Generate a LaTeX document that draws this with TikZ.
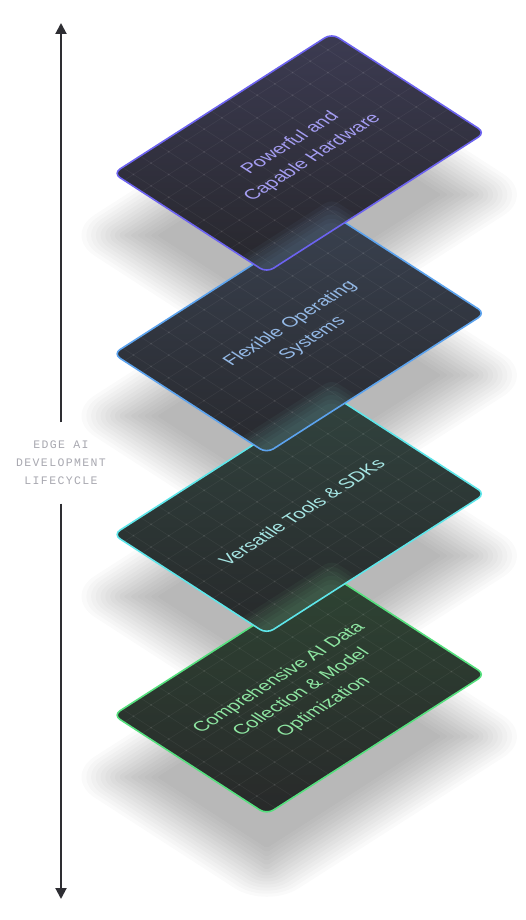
\documentclass[tikz,border=0pt]{standalone}
\usepackage{fontspec}
\setmainfont{Liberation Sans}
\newfontfamily\labmono[LetterSpace=12]{Liberation Mono}
\usetikzlibrary{arrows.meta}
\definecolor{b1}{HTML}{6C63F0}
\definecolor{b2}{HTML}{5CA3EE}
\definecolor{b3}{HTML}{5EE6EA}
\definecolor{b4}{HTML}{55E07E}
\definecolor{t1}{HTML}{A59EF3}
\definecolor{t2}{HTML}{94B9E6}
\definecolor{t3}{HTML}{A6E6E4}
\definecolor{t4}{HTML}{8EE6A2}
\definecolor{g2}{HTML}{86B4DE}
\definecolor{g3}{HTML}{7CCFC4}
\definecolor{g4}{HTML}{7CD494}
\definecolor{f1a}{HTML}{3C3B52}
\definecolor{f1b}{HTML}{27272C}
\definecolor{f2a}{HTML}{39414F}
\definecolor{f2b}{HTML}{28292E}
\definecolor{f3a}{HTML}{31433E}
\definecolor{f3b}{HTML}{27292B}
\definecolor{f4a}{HTML}{2E4433}
\definecolor{f4b}{HTML}{28292A}
\definecolor{axiscol}{HTML}{2E2E33}
\definecolor{labcol}{HTML}{A8A8B0}
\newcommand\crect[1]{({-3-(#1)},{-3-(#1)}) -- ({179.7+(#1)},{-3-(#1)}) -- ({179.7+(#1)},{256.4+(#1)}) -- ({-3-(#1)},{256.4+(#1)}) -- cycle}
\begin{document}
\begin{tikzpicture}[x=1pt,y=-1pt,
  card/.style={shift={(118.3,{173.3+180.6*(#1)})}, x={(0.8398pt,-0.5433pt)}, y={(0.8422pt,0.5391pt)}},
  shadowcard/.style={shift={(118.3,{235.3+180.6*(#1)})}, x={(0.8398pt,-0.5433pt)}, y={(0.8422pt,0.5391pt)}},
  cardtext/.style={font=\fontsize{18.4}{26.5}\selectfont, align=center, inner sep=0pt, cm={0.8422,0.5391,-0.8398,0.5433,(0,0)}},
  gridline/.style={draw=white, opacity=0.055, line width=0.6pt},
  griddot/.style={fill=white, opacity=0.08},
  lab/.style={font=\labmono\fontsize{11.5}{18}\selectfont, text=labcol, align=center, minimum height=81pt, inner sep=0pt},
  axis/.style={line width=2pt, draw=axiscol, -{Triangle[width=11pt,length=11pt]}}]
\useasboundingbox[fill=white] (0,0) rectangle (526,920);
% shadows
\foreach \k in {3,2,1,0}{
  \foreach \w in {-26,-22,...,30}{
    \pgfmathsetmacro\rr{max(2,8+\w)}
    \fill[shadowcard=\k, black, opacity=0.02, rounded corners=\rr pt] \crect{\w};
  }
}
% cards
\foreach \k/\bc/\tc/\ca/\cb/\gc/\txt in {
 3/b4/t4/f4a/f4b/g4/{Comprehensive AI Data\\Collection \& Model\\Optimization},
 2/b3/t3/f3a/f3b/g4/{Versatile Tools \& SDKs},
 1/b2/t2/f2a/f2b/g3/{Flexible Operating\\Systems},
 0/b1/t1/f1a/f1b/g2/{Powerful and\\Capable Hardware}}{
  \shade[card=\k, rounded corners=8pt, top color=\ca, bottom color=\cb] \crect{0};
  \begin{scope}
    \clip[card=\k, rounded corners=8pt] \crect{0};
    \ifnum\k<3
      \foreach \w in {-6,-2,...,16}{
        \fill[card=\k+1, \gc, opacity=0.05, rounded corners=8pt] \crect{\w};
      }
    \fi
    \foreach \gs in {10,31,...,176}{
      \draw[card=\k, gridline] (\gs,-3) -- (\gs,256.4);
    }
    \foreach \gt in {8,29,...,253}{
      \draw[card=\k, gridline] (-3,\gt) -- (179.7,\gt);
    }
    \foreach \gs in {10,31,...,176}{
      \foreach \gt in {8,29,...,253}{
        \fill[card=\k, griddot] (\gs,\gt) circle (1.1pt);
      }
    }
  \end{scope}
  \draw[card=\k, draw=\bc, line width=1.6pt, rounded corners=8pt] \crect{0};
  \begin{scope}[card=\k]
    \node[cardtext, text=\tc] (txt\k) at (87.6,130.3) {\txt};
  \end{scope}
}
% axis
\node[lab] (lifecycle) at (61,463) {EDGE AI\\DEVELOPMENT\\LIFECYCLE};
\coordinate (atop) at (61,23);
\coordinate (abot) at (61,899);
\draw[axis] (lifecycle.north) -- (atop);
\draw[axis] (lifecycle.south) -- (abot);
\end{tikzpicture}
\end{document}
